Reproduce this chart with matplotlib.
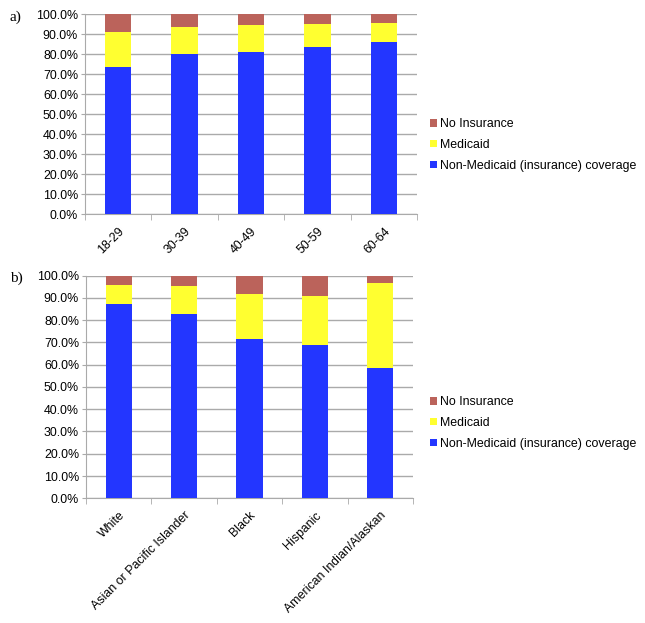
import matplotlib.pyplot as plt
import numpy as np
from matplotlib.ticker import FuncFormatter, FixedLocator

plt.rcParams['font.family'] = ['Liberation Sans', 'DejaVu Sans']

# Panel a: age groups (cumulative tops, in %)
age_groups = ["18-29", "30-39", "40-49", "50-59", "60-64"]
age_non_medicaid = [73.6, 79.8, 80.8, 83.3, 85.8]
age_medicaid = [17.2, 13.9, 13.7, 11.7, 9.9]
age_no_insurance = [9.2, 6.3, 5.5, 5.0, 4.3]

# Panel b: race / ethnicity
race_groups = ["White", "Asian or Pacific Islander", "Black", "Hispanic",
               "American Indian/Alaskan"]
race_non_medicaid = [87.4, 82.8, 71.4, 69.0, 58.4]
race_medicaid = [8.4, 12.5, 20.2, 21.8, 38.1]
race_no_insurance = [4.2, 4.7, 8.4, 9.2, 3.5]

SERIES = ["Non-Medicaid (insurance) coverage", "Medicaid", "No Insurance"]
COLORS = ["#2336FF", "#FFFF30", "#BB635B"]
GRID = "#AAAAAA"
FS = 8.9


def draw_panel(ax, cats, non_med, med, no_ins):
    """Draws one stacked bar panel"""
    x = np.arange(len(cats))
    bottom = np.zeros(len(cats))
    handles = []
    for vals, color, label in zip([non_med, med, no_ins], COLORS, SERIES):
        h = ax.bar(x, vals, width=0.4, bottom=bottom, color=color, label=label,
                   zorder=3)
        bottom += np.array(vals)
        handles.append(h)
    ax.set_xlim(-0.5, len(cats) - 0.5)
    ax.set_ylim(0, 100)
    ax.yaxis.set_major_locator(FixedLocator(np.arange(0, 101, 10)))
    ax.yaxis.set_major_formatter(FuncFormatter(lambda v, p: f"{v:.1f}%"))
    ax.grid(axis='y', color=GRID, lw=1, zorder=0)
    ax.set_xticks(x)
    ax.set_xticklabels(cats, rotation=45, ha='right', rotation_mode='anchor',
                       fontsize=FS)
    ax.set_xticks(np.arange(-0.5, len(cats), 1), minor=True)
    ax.tick_params(axis='x', which='major', length=0, pad=8)
    ax.tick_params(axis='x', which='minor', length=4, color=GRID, direction='out')
    ax.tick_params(axis='y', length=3, color=GRID, labelsize=FS, pad=2)
    for side in ['top', 'right']:
        ax.spines[side].set_visible(False)
    for side in ['left', 'bottom']:
        ax.spines[side].set_color(GRID)
    return handles


fig = plt.figure(figsize=(6.45, 6.23), dpi=100)
ax0 = fig.add_axes([0.1318, 0.6565, 0.5147, 0.321])
ax1 = fig.add_axes([0.1333, 0.2002, 0.507, 0.3573])

h0 = draw_panel(ax0, age_groups, age_non_medicaid, age_medicaid, age_no_insurance)
h1 = draw_panel(ax1, race_groups, race_non_medicaid, race_medicaid, race_no_insurance)

for ax, handles, ypos in [(ax0, h0, 145 / 623), (ax1, h1, 423 / 623)]:
    fig.legend(handles[::-1], SERIES[::-1], loc='center left',
               bbox_to_anchor=(0.657, 1 - ypos), frameon=False, fontsize=FS,
               handlelength=0.55, handleheight=0.55, handletextpad=0.25,
               labelspacing=0.7, borderpad=0)

fig.text(0.015, 1 - 17 / 623, "a)", family='Liberation Serif', fontsize=11,
         va='center')
fig.text(0.015, 1 - 278 / 623, "b)", family='Liberation Serif', fontsize=11,
         va='center')

fig.savefig("out.png", dpi=100)
